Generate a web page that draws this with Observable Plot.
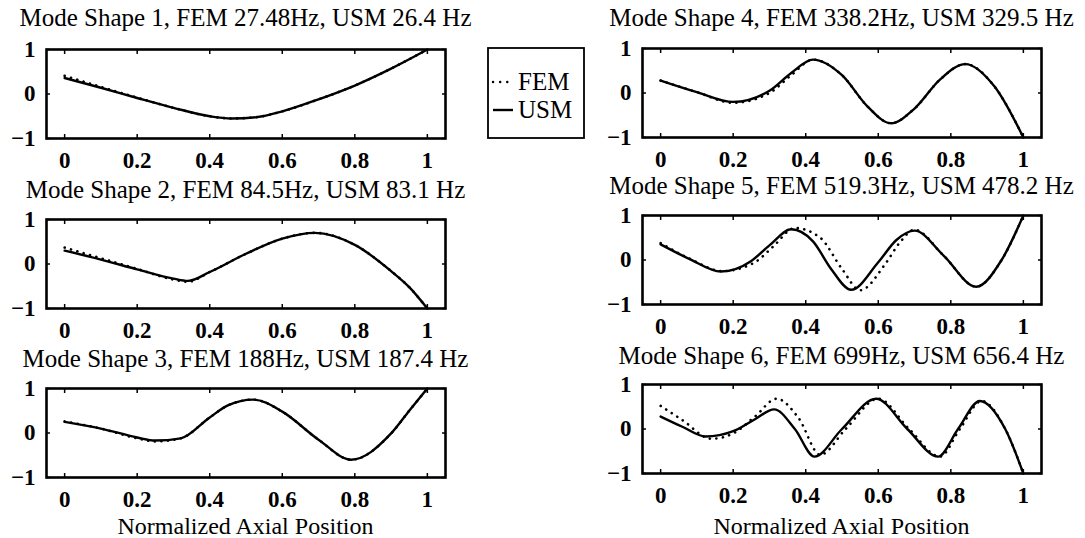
<!DOCTYPE html>
<html><head><meta charset="utf-8">
<script src="https://cdn.jsdelivr.net/npm/d3@7"></script>
<script src="https://cdn.jsdelivr.net/npm/@observablehq/plot@0.6"></script>
<style>
body{margin:0;background:#fff;}
#root{position:relative;width:1085px;height:538px;overflow:hidden;font-family:"Liberation Serif","Times New Roman",serif;color:#000;background:#fff;}
.ttl{position:absolute;white-space:nowrap;text-align:center;font-size:25px;line-height:24px;width:640px;}
.xl{position:absolute;white-space:nowrap;text-align:center;font-size:24px;line-height:21px;width:500px;}
svg{overflow:visible;}
</style></head><body><div id="root"></div>
<script>
// ---- data ----
const titles = [
  "Mode Shape 1, FEM 27.48Hz, USM 26.4 Hz",
  "Mode Shape 2, FEM 84.5Hz, USM 83.1 Hz",
  "Mode Shape 3, FEM 188Hz, USM 187.4 Hz",
  "Mode Shape 4, FEM 338.2Hz, USM 329.5 Hz",
  "Mode Shape 5, FEM 519.3Hz, USM 478.2 Hz",
  "Mode Shape 6, FEM 699Hz, USM 656.4 Hz"
];
const xLabelText = "Normalized Axial Position";
const seriesNames = ["FEM", "USM"];
const xTicks = [0, 0.2, 0.4, 0.6, 0.8, 1];
const xTickLabels = ["0", "0.2", "0.4", "0.6", "0.8", "1"];
const yTicks = [-1, 0, 1];
const yTickLabels = ["\u22121", "0", "1"];

// Mode 1
const xU1 = [0, 0.1, 0.2, 0.3, 0.4, 0.46, 0.53, 0.6, 0.7, 0.8, 0.9, 1];
const usm1 = [0.36, 0.14, -0.09, -0.31, -0.5, -0.55, -0.52, -0.39, -0.12, 0.19, 0.57, 1.0];
const xF1 = [0, 0.1, 0.2, 0.3, 0.4, 0.46, 0.53, 0.6, 0.7, 0.8, 0.9, 1];
const fem1 = [0.41, 0.16, -0.08, -0.31, -0.5, -0.55, -0.52, -0.39, -0.12, 0.19, 0.57, 1.0];
// Mode 2
const xU2 = [0, 0.1, 0.2, 0.3, 0.34, 0.4, 0.5, 0.6, 0.69, 0.8, 0.9, 0.95, 1];
const usm2 = [0.30, 0.10, -0.12, -0.33, -0.38, -0.18, 0.23, 0.57, 0.70, 0.43, -0.16, -0.52, -1.0];
const xF2 = [0, 0.1, 0.2, 0.3, 0.34, 0.4, 0.5, 0.6, 0.69, 0.8, 0.9, 0.95, 1];
const fem2 = [0.37, 0.13, -0.11, -0.35, -0.40, -0.18, 0.23, 0.57, 0.70, 0.43, -0.16, -0.52, -1.0];
// Mode 3
const xU3 = [0, 0.1, 0.2, 0.25, 0.32, 0.4, 0.45, 0.52, 0.6, 0.7, 0.79, 0.9, 0.95, 1];
const usm3 = [0.25, 0.10, -0.10, -0.17, -0.12, 0.35, 0.62, 0.75, 0.48, -0.15, -0.60, -0.01, 0.5, 1.0];
const xF3 = [0, 0.1, 0.2, 0.25, 0.32, 0.4, 0.45, 0.52, 0.6, 0.7, 0.79, 0.9, 0.95, 1];
const fem3 = [0.26, 0.10, -0.12, -0.19, -0.12, 0.35, 0.62, 0.75, 0.48, -0.15, -0.60, -0.01, 0.5, 1.0];
// Mode 4
const xU4 = [0, 0.1, 0.2, 0.3, 0.36, 0.42, 0.5, 0.57, 0.635, 0.7, 0.77, 0.84, 0.92, 1];
const usm4 = [0.28, 0.02, -0.2, 0.05, 0.45, 0.75, 0.4, -0.3, -0.68, -0.35, 0.3, 0.65, 0.15, -1.0];
const xF4 = [0, 0.1, 0.2, 0.3, 0.36, 0.42, 0.5, 0.57, 0.635, 0.7, 0.77, 0.84, 0.92, 1];
const fem4 = [0.28, 0.02, -0.22, 0.0, 0.4, 0.75, 0.4, -0.3, -0.68, -0.35, 0.3, 0.65, 0.15, -1.0];
// Mode 5
const xU5 = [0, 0.08, 0.166, 0.25, 0.3, 0.36, 0.42, 0.47, 0.525, 0.6, 0.65, 0.7, 0.78, 0.87, 0.94, 1];
const usm5 = [0.35, 0.02, -0.26, -0.02, 0.33, 0.69, 0.42, -0.2, -0.67, -0.05, 0.45, 0.66, 0.1, -0.6, 0.0, 1.0];
const xF5 = [0, 0.08, 0.17, 0.26, 0.31, 0.37, 0.44, 0.5, 0.55, 0.62, 0.66, 0.7, 0.78, 0.87, 0.94, 1];
const fem5 = [0.38, 0.03, -0.25, -0.05, 0.3, 0.72, 0.5, -0.2, -0.68, -0.08, 0.4, 0.68, 0.1, -0.6, 0.0, 1.0];
// Mode 6
const xU6 = [0, 0.06, 0.124, 0.2, 0.26, 0.313, 0.37, 0.424, 0.5, 0.594, 0.68, 0.765, 0.82, 0.88, 0.95, 1];
const usm6 = [0.28, 0.05, -0.17, -0.05, 0.22, 0.44, 0.0, -0.62, 0.0, 0.68, 0.0, -0.62, 0.0, 0.63, 0.0, -1.0];
const xF6 = [0, 0.06, 0.14, 0.2, 0.26, 0.32, 0.38, 0.44, 0.51, 0.6, 0.685, 0.77, 0.825, 0.885, 0.95, 1];
const fem6 = [0.52, 0.2, -0.22, -0.1, 0.28, 0.68, 0.25, -0.58, 0.0, 0.68, 0.0, -0.62, 0.0, 0.63, 0.0, -1.0];

const modes = [
  [xU1, usm1, xF1, fem1], [xU2, usm2, xF2, fem2], [xU3, usm3, xF3, fem3],
  [xU4, usm4, xF4, fem4], [xU5, usm5, xF5, fem5], [xU6, usm6, xF6, fem6]
];

// ---- layout ----
const root = document.getElementById("root");
const FONT = '"Liberation Serif","Times New Roman",serif';
const ML = 46, MR = 10, MT = 4, MB = 40, FW = 399, FH = 89;
const colLeft = [0, 596];
const frameTops = [[49, 219, 388], [48, 215, 384]];
const titleY = [[18, 190, 359], [18, 186, 356]];

function panel(k) {
  const col = k < 3 ? 0 : 1, row = k % 3;
  const [xu, u, xf, f] = modes[k];
  const usm = xu.map((x, i) => ({x, y: u[i]}));
  const fem = xf.map((x, i) => ({x, y: f[i]}));
  const fx = d => xTickLabels[xTicks.indexOf(d)];
  const fy = d => yTickLabels[yTicks.indexOf(d)];
  const p = Plot.plot({
    width: ML + FW + MR, height: MT + FH + MB,
    marginLeft: ML, marginRight: MR, marginTop: MT, marginBottom: MB,
    x: {domain: [-0.05, 1.05]},
    y: {domain: [-1, 1]},
    style: {fontFamily: FONT, fontSize: "23px", background: "transparent", color: "#000", overflow: "visible"},
    marks: [
      Plot.line(fem, {x: "x", y: "y", curve: "monotone-x", stroke: "#000", strokeWidth: 2.6, strokeDasharray: "0.1,6.5", strokeLinecap: "round"}),
      Plot.line(usm, {x: "x", y: "y", curve: "monotone-x", stroke: "#000", strokeWidth: 2.4}),
      Plot.frame({stroke: "#000", strokeWidth: 2.6}),
      Plot.axisX({ticks: xTicks, anchor: "bottom", tickSize: 0, tickPadding: 13, tickFormat: fx, label: null, fontWeight: "bold"}),
      Plot.axisX({ticks: xTicks, anchor: "bottom", tickSize: -4, tickFormat: () => "", label: null, strokeWidth: 1.5}),
      Plot.axisX({ticks: xTicks, anchor: "top", tickSize: -4, tickFormat: () => "", label: null, strokeWidth: 1.5}),
      Plot.axisY({ticks: yTicks, anchor: "left", tickSize: 0, tickPadding: 11, tickFormat: fy, label: null, fontWeight: "bold"}),
      Plot.axisY({ticks: yTicks, anchor: "left", tickSize: -4, tickFormat: () => "", label: null, strokeWidth: 1.5}),
      Plot.axisY({ticks: yTicks, anchor: "right", tickSize: -4, tickFormat: () => "", label: null, strokeWidth: 1.5})
    ]
  });
  p.style.position = "absolute";
  p.style.left = colLeft[col] + "px";
  p.style.top = (frameTops[col][row] - MT) + "px";
  root.appendChild(p);

  const cx = colLeft[col] + ML + FW / 2;
  const t = document.createElement("div");
  t.className = "ttl";
  t.textContent = titles[k];
  t.style.left = (cx - 320) + "px";
  t.style.top = (titleY[col][row] - 12) + "px";
  root.appendChild(t);

  if (row === 2) {
    const xl = document.createElement("div");
    xl.className = "xl";
    xl.textContent = xLabelText;
    xl.style.left = (cx - 250) + "px";
    xl.style.top = "516px";
    root.appendChild(xl);
  }
}
for (let k = 0; k < 6; k++) panel(k);

// ---- legend ----
const ns = "http://www.w3.org/2000/svg";
const lg = document.createElementNS(ns, "svg");
lg.setAttribute("width", 98); lg.setAttribute("height", 92);
lg.style.position = "absolute"; lg.style.left = "487px"; lg.style.top = "47px";
lg.innerHTML = `
<rect x="1" y="1" width="96" height="90" fill="#fff" stroke="#000" stroke-width="1.8"/>
<line x1="6" y1="35" x2="26" y2="35" stroke="#000" stroke-width="2.4" stroke-dasharray="0.1,7" stroke-linecap="round"/>
<line x1="6" y1="63" x2="26" y2="63" stroke="#000" stroke-width="2.4"/>
<text x="31" y="43" font-family='${FONT}' font-size="25">${seriesNames[0]}</text>
<text x="31" y="71" font-family='${FONT}' font-size="25">${seriesNames[1]}</text>`;
root.appendChild(lg);
</script></body></html>
